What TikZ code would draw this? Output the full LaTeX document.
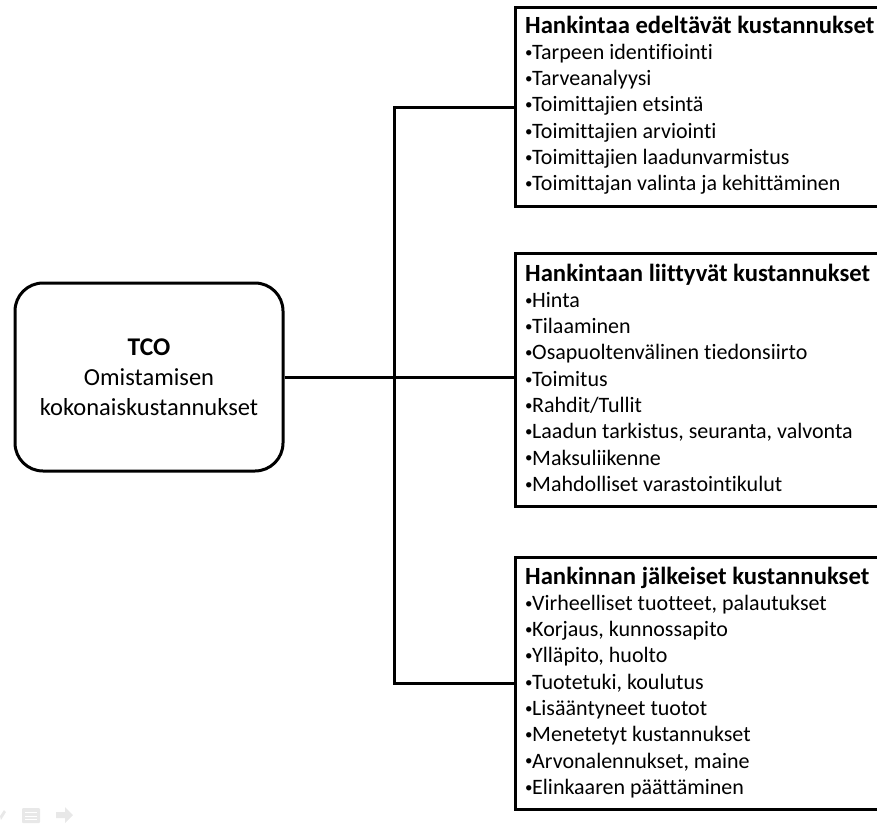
\documentclass[tikz,border=0pt]{standalone}
\usepackage{fontspec}
\setmainfont{Carlito}[Ligatures=NoCommon]
% small bullet hugging the item text
\newcommand\itm{\makebox[7pt][l]{\raisebox{2.2pt}{\fontsize{15}{15}\selectfont •}}}
\newcommand\ttl[1]{{\fontsize{24.7}{26.3}\selectfont\bfseries #1}}
\begin{document}
\begin{tikzpicture}[x=1pt,y=-1pt,
  frame/.style={draw=black, line width=3pt},
  listbox/.style={frame, rectangle, anchor=north west, inner sep=0pt, minimum width=430pt},
  listtext/.style={anchor=base west, align=left, inner sep=0pt,
    font=\fontsize{22}{26.3}\selectfont},
  mainbox/.style={frame, rectangle, rounded corners=28pt, minimum width=268pt,
    minimum height=188pt, align=center, font=\fontsize{24.5}{30}\selectfont},
  link/.style={draw=black, line width=3pt},
  faint/.style={fill=black!9, draw=none}]
\useasboundingbox (0,0) rectangle (877,825);
\clip (0,0) rectangle (877,825);

% central concept
\node[mainbox] (tco) at (149,377) {{\fontsize{25.5}{30}\selectfont\bfseries TCO}\\Omistamisen\\kokonaiskustannukset};

% the three cost groups (their right side runs past the page edge)
\node[listbox, minimum height=199pt] (pre) at (514,6) {};
\node[listbox, minimum height=253pt] (mid) at (514,252) {};
\node[listbox, minimum height=252pt] (post) at (514,556) {};

% list texts, placed by the baseline of their last line
\node[listtext] (pretext) at (525,190.8) {\ttl{Hankintaa edeltävät kustannukset}\\
  \itm Tarpeen identifiointi\\
  \itm Tarveanalyysi\\
  \itm Toimittajien etsintä\\
  \itm Toimittajien arviointi\\
  \itm Toimittajien laadunvarmistus\\
  \itm Toimittajan valinta ja kehittäminen};

\node[listtext] (midtext) at (525,491.4) {\ttl{Hankintaan liittyvät kustannukset}\\
  \itm Hinta\\
  \itm Tilaaminen\\
  \itm Osapuoltenvälinen tiedonsiirto\\
  \itm Toimitus\\
  \itm Rahdit/Tullit\\
  \itm Laadun tarkistus, seuranta, valvonta\\
  \itm Maksuliikenne\\
  \itm Mahdolliset varastointikulut};

\node[listtext] (posttext) at (525,794.4) {\ttl{Hankinnan jälkeiset kustannukset}\\
  \itm Virheelliset tuotteet, palautukset\\
  \itm Korjaus, kunnossapito\\
  \itm Ylläpito, huolto\\
  \itm Tuotetuki, koulutus\\
  \itm Lisääntyneet tuotot\\
  \itm Menetetyt kustannukset\\
  \itm Arvonalennukset, maine\\
  \itm Elinkaaren päättäminen};

% connectors
\coordinate (bus) at (394,0);
\draw[link] (pre.west) -- (pre.west -| bus) -- (post.west -| bus) -- (post.west);
\draw[link] (tco.east) -- (tco.east -| mid.west);

% faint slide-show controls in the lower left corner
\fill[faint] (0,816) -- (4,810) -- (6,812) -- (1,820) -- cycle;
\fill[faint, rounded corners=1pt] (22,808) rectangle (40,823);
\fill[white] (25,812) rectangle (37,813.2);
\fill[white] (25,815.5) rectangle (37,816.7);
\fill[white] (25,819) rectangle (37,820.2);
\fill[faint] (56,812) -- (65,812) -- (65,807) -- (73,815) -- (65,823) -- (65,818) -- (56,818) -- cycle;
\end{tikzpicture}
\end{document}
